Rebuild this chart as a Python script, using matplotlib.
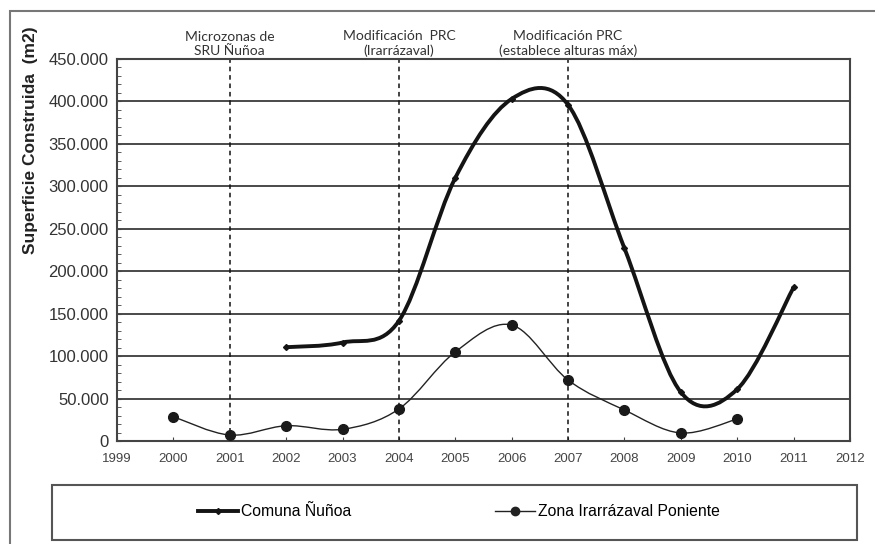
import numpy as np
import matplotlib
matplotlib.use("Agg")
from matplotlib import pyplot as plt
from matplotlib.path import Path
from matplotlib.patches import PathPatch, Rectangle
from matplotlib.lines import Line2D
from matplotlib.ticker import MultipleLocator, FuncFormatter

# data
years_nunoa = [2002, 2003, 2004, 2005, 2006, 2007, 2008, 2009, 2010, 2011]
comuna_nunoa = [110500, 116000, 141500, 310000, 403000, 396000, 227000, 57500, 61000, 181000]

years_zona = [2000, 2001, 2002, 2003, 2004, 2005, 2006, 2007, 2008, 2009, 2010]
zona_irarrazaval = [28600, 7000, 18000, 13800, 37700, 105000, 136600, 71800, 36500, 9400, 25900]

event_years = [2001, 2004, 2007]
event_labels = ["Microzonas de\nSRU Ñuñoa",
                "Modificación  PRC\n(Irarrázaval)",
                "Modificación PRC\n(establece alturas máx)"]

series_names = ["Comuna Ñuñoa", "Zona Irarrázaval Poniente"]

def smooth_path(xs, ys):
    """Excel-like smoothed line: cubic bezier through the points"""
    P = np.column_stack([xs, ys]).astype(float)
    ext = np.vstack([P[0], P, P[-1]])
    verts = [P[0]]
    codes = [Path.MOVETO]
    for i in range(len(P) - 1):
        p0, p1 = ext[i + 1], ext[i + 2]
        c1 = p0 + (ext[i + 2] - ext[i]) / 6.0
        c2 = p1 - (ext[i + 3] - ext[i + 1]) / 6.0
        verts += [c1, c2, p1]
        codes += [Path.CURVE4] * 3
    return Path(verts, codes)

W, H = 875, 544
fig = plt.figure(figsize=(W / 100, H / 100), dpi=100)
ax = fig.add_axes([117 / W, 1 - 441 / H, (850 - 117) / W, (441 - 59) / H])

# outer frame and legend box
fig.patches.append(Rectangle((10 / W, -0.05), 1.2, 1 - 11 / H + 0.05, transform=fig.transFigure,
                             fill=False, ec="#777777", lw=1.5))
fig.patches.append(Rectangle((52 / W, 1 - 540 / H), (857 - 52) / W, 55 / H, transform=fig.transFigure,
                             fill=False, ec="#555555", lw=1.5))

ax.set_xlim(1999, 2012)
ax.set_ylim(0, 450000)

for y in range(50000, 450001, 50000):
    ax.axhline(y, color="#3a3a3a", lw=1.3, zorder=1)
for x in event_years:
    ax.axvline(x, color="#111111", lw=1.1, ls=(0, (3, 2.5)), zorder=2)

dark = "#141414"
ax.add_patch(PathPatch(smooth_path(years_nunoa, comuna_nunoa), fill=False, ec=dark, lw=2.8, zorder=4))
ax.plot(years_nunoa, comuna_nunoa, ls="none", marker="D", ms=3, color=dark, zorder=5)
ax.add_patch(PathPatch(smooth_path(years_zona, zona_irarrazaval), fill=False, ec="#222222", lw=1.0, zorder=4))
ax.plot(years_zona, zona_irarrazaval, ls="none", marker="o", ms=7, color="#1a1a1a", zorder=5)

ax.xaxis.set_major_locator(MultipleLocator(1))
ax.yaxis.set_major_locator(MultipleLocator(50000))
ax.yaxis.set_minor_locator(MultipleLocator(10000))
ax.yaxis.set_major_formatter(FuncFormatter(lambda v, p: "0" if v == 0 else f"{int(v):,}".replace(",", ".")))
ax.tick_params(axis="y", which="both", direction="in", length=3, color="#444444",
               labelsize=12, labelcolor="#333333", pad=6)
ax.tick_params(axis="x", direction="in", length=3, color="#444444",
               labelsize=9.5, labelcolor="#444444", pad=9)
for lab in ax.get_xticklabels() + ax.get_yticklabels():
    lab.set_family("Liberation Sans")
for s in ax.spines.values():
    s.set_color("#444444")
    s.set_linewidth(1.5)

ax.set_ylabel("Superficie Construida  (m2)", fontsize=12.5, fontweight="bold",
              family="Liberation Sans", color="#222222")
ax.yaxis.set_label_coords(-0.108, 0.788)

for x, txt in zip(event_years, event_labels):
    ax.text(x, 1.005, txt, transform=ax.get_xaxis_transform(), ha="center", va="bottom",
            fontsize=10, family="Lato", color="#333333", linespacing=1.25)

handles = [Line2D([], [], color=dark, lw=2.8, marker="D", ms=3),
           Line2D([], [], color="#222222", lw=1.0, marker="o", ms=6)]
fig.legend(handles, series_names, loc="center", bbox_to_anchor=(459 / W, 1 - 512 / H),
           ncol=2, frameon=False, handlelength=2.55, handletextpad=0.15, columnspacing=9.2,
           prop={"family": "Liberation Sans", "size": 11.3})

fig.savefig("out.png", dpi=100)
